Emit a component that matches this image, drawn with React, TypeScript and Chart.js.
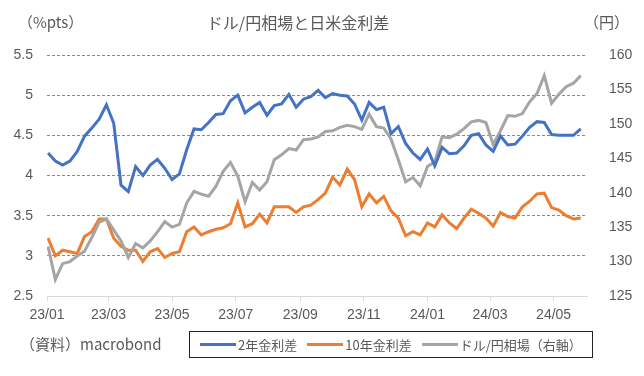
import React, { useEffect, useRef } from 'react';
import { Chart, registerables } from 'chart.js';

Chart.register(...registerables);

// days since 2023-01-01 for the axis ticks, and their labels
const tickDays = [0, 59, 120, 181, 243, 304, 365, 425, 486];
const tickLabels = ['23/01', '23/03', '23/05', '23/07', '23/09', '23/11', '24/01', '24/03', '24/05'];

// weekly observations starting Mon 2023-01-02 (day 1)
const firstDay = 1;
const weekStep = 7;

const spread2y = [
  4.28, 4.18, 4.13, 4.18, 4.30, 4.49, 4.59, 4.70, 4.88, 4.65,
  3.88, 3.80, 4.11, 4.00, 4.13, 4.20, 4.09, 3.95, 4.02, 4.32,
  4.58, 4.57, 4.66, 4.76, 4.77, 4.93, 5.00, 4.78, 4.85, 4.91,
  4.75, 4.87, 4.89, 5.01, 4.85, 4.95, 4.98, 5.06, 4.97, 5.02,
  5.00, 4.99, 4.89, 4.69, 4.91, 4.82, 4.85, 4.52, 4.61, 4.40,
  4.28, 4.20, 4.33, 4.12, 4.35, 4.27, 4.28, 4.37, 4.50, 4.52,
  4.38, 4.30, 4.49, 4.38, 4.39, 4.49, 4.60, 4.67, 4.66, 4.51,
  4.50, 4.50, 4.50, 4.58,
];

const spread10y = [
  3.22, 3.00, 3.07, 3.05, 3.03, 3.24, 3.30, 3.46, 3.46, 3.22,
  3.12, 3.07, 3.07, 2.93, 3.05, 3.09, 2.98, 3.03, 3.05, 3.30,
  3.36, 3.26, 3.30, 3.33, 3.35, 3.40, 3.66, 3.36, 3.40, 3.52,
  3.41, 3.61, 3.61, 3.61, 3.54, 3.61, 3.63, 3.70, 3.78, 3.98,
  3.88, 4.08, 3.95, 3.61, 3.77, 3.66, 3.74, 3.56, 3.47, 3.25,
  3.30, 3.26, 3.41, 3.36, 3.51, 3.41, 3.34, 3.47, 3.58, 3.53,
  3.47, 3.37, 3.54, 3.49, 3.47, 3.61, 3.68, 3.77, 3.78, 3.60,
  3.57, 3.50, 3.46, 3.47,
];

const usdjpy = [
  132.2, 127.4, 129.7, 130.0, 130.8, 131.5, 133.5, 135.7, 136.2, 134.6,
  133.0, 130.6, 132.6, 132.0, 133.0, 134.3, 135.8, 135.0, 135.4, 138.5,
  140.2, 139.8, 139.5, 140.9, 143.1, 144.4, 142.4, 138.7, 141.5, 140.4,
  141.6, 144.8, 145.5, 146.4, 146.2, 147.7, 147.8, 148.1, 148.9, 149.0,
  149.5, 149.8, 149.6, 149.2, 151.4, 149.6, 149.4, 147.8, 144.8, 141.6,
  142.2, 141.0, 143.8, 144.5, 148.1, 148.0, 148.5, 149.3, 150.3, 150.5,
  150.2, 147.0, 149.0, 151.2, 151.1, 151.5, 153.2, 154.4, 157.0, 153.0,
  154.3, 155.4, 155.9, 157.0,
];

const seriesNames = ['2年金利差', '10年金利差', 'ドル/円相場（右軸）'];
const seriesColors = ['#4472C4', '#ED7D31', '#A5A5A5'];

const TEXT = '#595959';
const NUM_FONT = "'Liberation Sans', Arial, sans-serif";
const JP_FONT = "'Noto Sans CJK JP', 'Noto Sans', sans-serif";

function toPoints(vals: number[]) {
  return vals.map((v, i) => ({ x: firstDay + weekStep * i, y: v }));
}

export default function App() {
  const ref = useRef<HTMLCanvasElement | null>(null);

  useEffect(() => {
    document.body.style.margin = '0';
    const canvas = ref.current;
    if (!canvas) return;
    const chart = new Chart(canvas, {
      type: 'line',
      data: {
        datasets: [
          { label: seriesNames[0], data: toPoints(spread2y), borderColor: seriesColors[0], backgroundColor: seriesColors[0], borderWidth: 3, pointRadius: 0, tension: 0, yAxisID: 'y', order: 0 },
          { label: seriesNames[1], data: toPoints(spread10y), borderColor: seriesColors[1], backgroundColor: seriesColors[1], borderWidth: 3, pointRadius: 0, tension: 0, yAxisID: 'y', order: 2 },
          { label: seriesNames[2], data: toPoints(usdjpy), borderColor: seriesColors[2], backgroundColor: seriesColors[2], borderWidth: 3, pointRadius: 0, tension: 0, yAxisID: 'y2', order: 1 },
        ],
      },
      options: {
        responsive: false,
        animation: false,
        devicePixelRatio: 1,
        layout: { padding: { top: 55, left: 0, right: 0, bottom: 0 } },
        plugins: { legend: { display: false }, title: { display: false }, tooltip: { enabled: false } },
        scales: {
          x: {
            type: 'linear',
            min: 0,
            max: 518,
            afterBuildTicks: (s: any) => { s.ticks = tickDays.map((v) => ({ value: v })); },
            afterFit: (s: any) => { s.height = 80; },
            ticks: {
              autoSkip: false,
              maxRotation: 0,
              padding: 6,
              color: TEXT,
              font: { family: NUM_FONT, size: 14 },
              callback: (v: any) => {
                const k = tickDays.indexOf(Number(v));
                return k >= 0 ? tickLabels[k] : '';
              },
            },
            grid: { drawOnChartArea: false, drawTicks: true, tickLength: 5, color: '#d9d9d9' },
            border: { color: '#d9d9d9' },
          },
          y: {
            position: 'left',
            min: 2.5,
            max: 5.5,
            afterFit: (s: any) => { s.width = 47; },
            ticks: {
              stepSize: 0.5,
              padding: 14,
              color: TEXT,
              font: { family: NUM_FONT, size: 14 },
              callback: (v: any) => String(Math.round(Number(v) * 10) / 10),
            },
            grid: {
              drawTicks: false,
              lineWidth: 1,
              color: (ctx: any) => (ctx.tick && ctx.tick.value === 2.5 ? 'rgba(0,0,0,0)' : '#8a8a8a'),
            },
            border: { display: false, dash: [3, 2] },
          },
          y2: {
            position: 'right',
            min: 125,
            max: 160,
            afterFit: (s: any) => { s.width = 57; },
            ticks: { stepSize: 5, padding: 14, color: TEXT, font: { family: NUM_FONT, size: 14 } },
            grid: { display: false },
            border: { display: false },
          },
        },
      },
    });
    return () => chart.destroy();
  }, []);

  const txt = (extra: React.CSSProperties): React.CSSProperties => ({
    position: 'absolute',
    color: TEXT,
    fontFamily: JP_FONT,
    fontSize: 15,
    lineHeight: '20px',
    whiteSpace: 'nowrap',
    ...extra,
  });

  return (
    <div style={{ position: 'absolute', left: 0, top: 0, width: 644, height: 376, background: '#fff' }}>
      <canvas ref={ref} width={644} height={376} style={{ position: 'absolute', left: 0, top: 0 }} />
      <div style={txt({ left: 18, top: 12 })}>（%pts）</div>
      <div style={txt({ left: 98, top: 12, width: 400, textAlign: 'center', fontSize: 16 })}>ドル/円相場と日米金利差</div>
      <div style={txt({ left: 584, top: 12 })}>（円）</div>
      <div style={txt({ left: 20, top: 334 })}>（資料）macrobond</div>
      <div
        style={{
          position: 'absolute',
          left: 189,
          top: 331,
          width: 402,
          height: 25,
          border: '1px solid #222',
          display: 'flex',
          alignItems: 'center',
          justifyContent: 'center',
          fontFamily: JP_FONT,
          fontSize: 13,
          color: TEXT,
          whiteSpace: 'nowrap',
        }}
      >
        {seriesNames.map((n, i) => (
          <div key={n} style={{ display: 'flex', alignItems: 'center', marginRight: i < 2 ? 10 : 0 }}>
            <span style={{ display: 'inline-block', width: 36, height: 3, background: seriesColors[i], marginRight: 2 }} />
            <span>{n}</span>
          </div>
        ))}
      </div>
    </div>
  );
}
